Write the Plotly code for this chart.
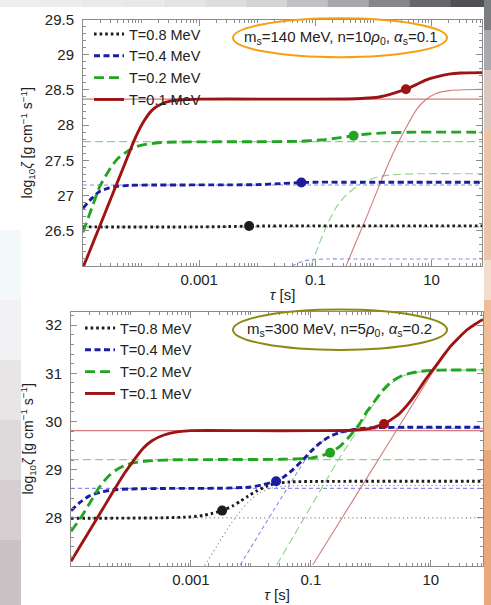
import plotly.graph_objects as go

# ---------------- DATA (log10 tau [s] , log10 zeta) ----------------
series_names = ["T=0.8 MeV", "T=0.4 MeV", "T=0.2 MeV", "T=0.1 MeV"]
x_tick_vals = [1e-3, 1e-1, 1e1]
x_tick_text = ["0.001", "0.1", "10"]
top_y_ticks = [26.5, 27, 27.5, 28, 28.5, 29, 29.5]
bot_y_ticks = [28, 29, 30, 31, 32]
top_label = "m<sub>s</sub>=140 MeV, n=10<i>ρ</i><sub>0</sub>, <i>α</i><sub>s</sub>=0.1"
bot_label = "m<sub>s</sub>=300 MeV, n=5<i>ρ</i><sub>0</sub>, <i>α</i><sub>s</sub>=0.2"
y_title = "log<sub>10</sub><i>ζ</i> [g cm<sup>−1</sup> s<sup>−1</sup>]"
x_title = "<i>τ</i> [s]"

# ---- top panel, thick curves
top_black_lt = [-5.0, -3.0, -2.5, -2.14, -1.8, -1.5, 1.87]
top_black_y = [26.555, 26.555, 26.56, 26.565, 26.568, 26.57, 26.57]
top_blue_lt = [-5.0, -4.85, -4.71, -4.55, -4.42, -4.2, -3.8, -2.5, -2.0, -1.6, -1.24, -1.0, -0.5, 1.87]
top_blue_y = [26.82, 26.96, 27.06, 27.11, 27.13, 27.145, 27.15, 27.152, 27.155, 27.17, 27.185, 27.19, 27.19, 27.19]
top_green_lt = [-5.0, -4.85, -4.71, -4.55, -4.42, -4.25, -4.1, -3.9, -3.7, -3.4, -2.0, -1.3, -0.9, -0.6, -0.34, -0.1, 0.2, 0.6, 1.87]
top_green_y = [26.48, 26.82, 27.13, 27.36, 27.51, 27.62, 27.69, 27.73, 27.75, 27.76, 27.765, 27.77, 27.79, 27.82, 27.85, 27.875, 27.89, 27.9, 27.9]
top_red_lt = [-5.0, -4.9, -4.7, -4.5, -4.3, -4.1, -3.95, -3.8, -3.65, -3.5, -3.3, -3.0, -2.0, -1.0, -0.3, -0.1, 0.1, 0.3, 0.56, 0.75, 0.9, 1.1, 1.3, 1.5, 1.87]
top_red_y = [25.98, 26.18, 26.59, 27.0, 27.41, 27.82, 28.06, 28.22, 28.30, 28.34, 28.36, 28.37, 28.37, 28.37, 28.375, 28.385, 28.40, 28.44, 28.51, 28.58, 28.64, 28.69, 28.725, 28.74, 28.745]
# ---- top panel, thin plateau levels and thin rising curves
top_plateau_lt = [-5.0, 1.87]
top_plateau_y = [26.555, 27.15, 27.765, 28.37]
top_blue_rise_lt = [-1.40, -1.3, -1.2, -1.05, -0.8, -0.4, 1.87]
top_blue_rise_y = [26.0, 26.04, 26.07, 26.09, 26.10, 26.10, 26.10]
top_green_rise_lt = [-1.07, -0.95, -0.8, -0.65, -0.5, -0.35, -0.15, 0.1, 0.4, 0.8, 1.87]
top_green_rise_y = [26.0, 26.28, 26.58, 26.82, 26.98, 27.09, 27.2, 27.27, 27.3, 27.31, 27.31]
top_red_rise_lt = [-0.47, -0.3, -0.1, 0.1, 0.3, 0.45, 0.6, 0.75, 0.9, 1.05, 1.3, 1.87]
top_red_rise_y = [26.0, 26.34, 26.73, 27.14, 27.53, 27.79, 28.02, 28.23, 28.36, 28.44, 28.49, 28.51]
top_mark_lt = [-2.14, -1.24, -0.34, 0.56]
top_mark_y = [26.567, 27.185, 27.85, 28.51]

# ---- bottom panel, thick curves
bot_black_lt = [-5.0, -3.5, -3.0, -2.8, -2.65, -2.48, -2.3, -2.18, -2.05, -1.9, -1.75, -1.6, -1.35, -1.0, 1.87]
bot_black_y = [27.99, 28.0, 28.02, 28.05, 28.09, 28.15, 28.25, 28.34, 28.45, 28.56, 28.65, 28.71, 28.745, 28.755, 28.76]
bot_blue_lt = [-5.0, -4.85, -4.7, -4.52, -4.3, -4.0, -3.5, -2.5, -2.0, -1.8, -1.58, -1.45, -1.3, -1.15, -1.0, -0.85, -0.7, -0.5, -0.3, -0.1, 0.2, 0.6, 1.87]
bot_blue_y = [28.15, 28.32, 28.45, 28.53, 28.58, 28.60, 28.61, 28.615, 28.64, 28.69, 28.76, 28.85, 29.0, 29.18, 29.38, 29.55, 29.68, 29.78, 29.83, 29.86, 29.875, 29.88, 29.88]
bot_green_lt = [-5.0, -4.85, -4.7, -4.52, -4.38, -4.24, -4.1, -3.96, -3.8, -3.6, -3.3, -2.5, -1.5, -1.0, -0.85, -0.68, -0.5, -0.35, -0.2, -0.07, 0.05, 0.2, 0.35, 0.5, 0.65, 0.82, 1.0, 1.3, 1.87]
bot_green_y = [27.72, 27.98, 28.28, 28.65, 28.86, 29.0, 29.09, 29.14, 29.17, 29.19, 29.205, 29.21, 29.215, 29.24, 29.28, 29.35, 29.5, 29.7, 29.93, 30.2, 30.4, 30.65, 30.83, 30.94, 31.0, 31.04, 31.06, 31.07, 31.07]
bot_red_lt = [-5.0, -4.8, -4.57, -4.3, -4.1, -3.95, -3.8, -3.65, -3.45, -3.2, -3.0, -2.0, -1.0, -0.3, -0.1, 0.05, 0.22, 0.35, 0.48, 0.62, 0.76, 0.9, 1.05, 1.2, 1.32, 1.45, 1.6, 1.75, 1.87]
bot_red_y = [27.10, 27.51, 27.98, 28.54, 28.94, 29.2, 29.44, 29.6, 29.72, 29.79, 29.81, 29.81, 29.81, 29.82, 29.84, 29.88, 29.95, 30.05, 30.17, 30.36, 30.59, 30.85, 31.1, 31.35, 31.55, 31.72, 31.9, 32.03, 32.12]
# ---- bottom panel, thin plateau levels and thin rising curves
bot_plateau_lt = [-5.0, 1.87]
bot_plateau_y = [28.0, 28.61, 29.21, 29.81]
bot_black_rise_lt = [-2.77, -2.55, -2.32, -2.15, -2.0, -1.85, -1.65, -1.4, -1.0, 1.87]
bot_black_rise_y = [27.01, 27.45, 27.9, 28.18, 28.38, 28.52, 28.62, 28.66, 28.67, 28.67]
bot_blue_rise_lt = [-2.18, -1.9, -1.6, -1.3, -1.1, -0.9, -0.7, -0.5, -0.3, 0.0, 0.5, 1.87]
bot_blue_rise_y = [27.02, 27.59, 28.2, 28.8, 29.19, 29.5, 29.67, 29.77, 29.82, 29.85, 29.86, 29.86]
bot_green_rise_lt = [-1.57, -1.2, -0.8, -0.5, -0.2, -0.07, 0.1, 0.26, 0.5, 0.8, 1.2, 1.87]
bot_green_rise_y = [27.02, 27.81, 28.66, 29.29, 29.86, 30.14, 30.45, 30.70, 30.93, 31.03, 31.06, 31.07]
bot_red_rise_lt = [-0.97, -0.5, 0.0, 0.5, 1.0, 1.2, 1.32, 1.45, 1.6, 1.75, 1.87]
bot_red_rise_y = [27.02, 27.96, 28.96, 29.96, 30.96, 31.33, 31.54, 31.72, 31.9, 32.03, 32.12]
bot_mark_lt = [-2.48, -1.58, -0.68, 0.22]
bot_mark_y = [28.15, 28.76, 29.35, 29.95]

# ---------------- STYLES ----------------
W, H = 491, 605
thick_col = ["#1c1c1c", "#1c1ca0", "#22a622", "#9e1414"]
thin_col = ["#8a8a8a", "#8c8ce8", "#86d686", "#d07c7c"]
thick_dash = ["2.6px,3px", "6px,3.5px", "10px,5px", "solid"]
thin_dash = ["1.2px,3px", "4px,3px", "8px,4px", "solid"]
FONT = "Liberation Sans, Arial, sans-serif"
TXT = "#222222"


def tau(lt):
    return [10 ** v for v in lt]


fig = go.Figure()


def add_panel(xa, ya, legend, thick, plateau_lt, plateau_y, rises, marks):
    for i, lev in enumerate(plateau_y):
        fig.add_trace(go.Scatter(x=tau(plateau_lt), y=[lev, lev], mode="lines", xaxis=xa, yaxis=ya,
                                 line=dict(color=thin_col[i], width=1.2, dash=thin_dash[i]),
                                 showlegend=False, hoverinfo="skip"))
    for i, (lt, yv) in rises.items():
        fig.add_trace(go.Scatter(x=tau(lt), y=yv, mode="lines", xaxis=xa, yaxis=ya,
                                 line=dict(color=thin_col[i], width=1.1, dash=thin_dash[i], shape="spline",
                                           smoothing=0.6),
                                 showlegend=False, hoverinfo="skip"))
    for i, (lt, yv) in enumerate(thick):
        fig.add_trace(go.Scatter(x=tau(lt), y=yv, mode="lines", xaxis=xa, yaxis=ya, name=series_names[i],
                                 legend=legend,
                                 line=dict(color=thick_col[i], width=2.9, dash=thick_dash[i], shape="spline",
                                           smoothing=0.6)))
    mlt, my = marks
    fig.add_trace(go.Scatter(x=tau(mlt), y=my, mode="markers", xaxis=xa, yaxis=ya,
                             marker=dict(color=thick_col, size=10), showlegend=False))


add_panel("x", "y", "legend",
          [(top_black_lt, top_black_y), (top_blue_lt, top_blue_y), (top_green_lt, top_green_y),
           (top_red_lt, top_red_y)],
          top_plateau_lt, top_plateau_y,
          {1: (top_blue_rise_lt, top_blue_rise_y), 2: (top_green_rise_lt, top_green_rise_y),
           3: (top_red_rise_lt, top_red_rise_y)},
          (top_mark_lt, top_mark_y))
add_panel("x2", "y2", "legend2",
          [(bot_black_lt, bot_black_y), (bot_blue_lt, bot_blue_y), (bot_green_lt, bot_green_y),
           (bot_red_lt, bot_red_y)],
          bot_plateau_lt, bot_plateau_y,
          {0: (bot_black_rise_lt, bot_black_rise_y), 1: (bot_blue_rise_lt, bot_blue_rise_y),
           2: (bot_green_rise_lt, bot_green_rise_y), 3: (bot_red_rise_lt, bot_red_rise_y)},
          (bot_mark_lt, bot_mark_y))

minor_x = [m * 10 ** k for k in range(-5, 2) for m in range(1, 10) if 10 ** k * m not in (1e-3, 1e-1, 1e1)]


def px_x(p):
    return p / W


def px_y(p):
    return 1 - p / H


axis_common = dict(showgrid=False, zeroline=False, showline=True, linecolor="#8c8c8c", linewidth=1,
                   mirror="allticks", ticks="inside", ticklen=6, tickcolor="#8c8c8c", automargin=False,
                   tickfont=dict(family=FONT, size=15, color=TXT))
xa = dict(axis_common, type="log", range=[-5, 1.87], tickvals=x_tick_vals, ticktext=x_tick_text,
          ticklabelstandoff=0,
          title=dict(text=x_title, font=dict(family=FONT, size=15, color=TXT), standoff=2),
          minor=dict(tickvals=minor_x, ticks="inside", ticklen=3, tickcolor="#8c8c8c"))
ya = dict(axis_common, ticklabelstandoff=5,
          title=dict(text=y_title, font=dict(family=FONT, size=14, color=TXT), standoff=8))

fig.update_layout(
    width=W, height=H, margin=dict(l=0, r=0, t=0, b=0, autoexpand=False),
    paper_bgcolor="white", plot_bgcolor="white",
    font=dict(family=FONT, size=14, color=TXT),
    xaxis=dict(xa, domain=[px_x(83), px_x(482)], anchor="y"),
    yaxis=dict(ya, range=[26.0, 29.5], tickvals=top_y_ticks, domain=[px_y(266), px_y(19.5)],
               anchor="x", minor=dict(dtick=0.1, ticks="inside", ticklen=3, tickcolor="#8c8c8c")),
    xaxis2=dict(xa, domain=[px_x(71), px_x(483)], anchor="y2"),
    yaxis2=dict(ya, range=[27.0, 32.28], tickvals=bot_y_ticks, domain=[px_y(566), px_y(311.7)],
                anchor="x2", minor=dict(dtick=0.2, ticks="inside", ticklen=3, tickcolor="#8c8c8c")),
    legend=dict(x=px_x(89), y=px_y(18), xanchor="left", yanchor="top", bgcolor="rgba(0,0,0,0)",
                itemwidth=30, font=dict(family=FONT, size=14.5, color=TXT), tracegroupgap=0),
    legend2=dict(x=px_x(80), y=px_y(312), xanchor="left", yanchor="top", bgcolor="rgba(0,0,0,0)",
                 itemwidth=30, font=dict(family=FONT, size=14.5, color=TXT), tracegroupgap=0),
    showlegend=True,
)

for text, xc, yc in [(top_label, 341, 37), (bot_label, 339, 329.5)]:
    fig.add_annotation(xref="paper", yref="paper", showarrow=False, xanchor="center", yanchor="middle",
                       text=text, x=px_x(xc), y=px_y(yc), font=dict(family=FONT, size=15, color=TXT))

shapes = [
    dict(type="circle", xref="paper", yref="paper", x0=px_x(233), x1=px_x(447), y0=px_y(57.3), y1=px_y(18.3),
         line=dict(color="#f5a010", width=2)),
    dict(type="circle", xref="paper", yref="paper", x0=px_x(233), x1=px_x(447), y0=px_y(350), y1=px_y(309.5),
         line=dict(color="#8a8a12", width=2)),
]
top_strip = ["#eceef0", "#eaecee", "#e8eaec", "#e6e8ea", "#e2e4e6", "#dcdee0", "#d2d4d6", "#c0c1c4",
             "#a6a7aa", "#86878b", "#66676b", "#505155"]
for i, c in enumerate(top_strip):
    shapes.append(dict(type="rect", xref="paper", yref="paper", x0=i / len(top_strip), x1=(i + 1) / len(top_strip),
                       y0=px_y(7), y1=1, line=dict(width=0), fillcolor=c, layer="below"))
right_strip = [(0, 30, "#7c7d82"), (30, 70, "#a9a9ad"), (70, 130, "#d9c8c2"), (130, 260, "#ecc4ac"),
               (260, 300, "#f2dccb"), (300, 450, "#efbc98"), (450, 605, "#eaa77c")]
for y0, y1, c in right_strip:
    shapes.append(dict(type="rect", xref="paper", yref="paper", x0=px_x(484), x1=1, y0=px_y(y1), y1=px_y(y0),
                       line=dict(width=0), fillcolor=c, layer="below"))
left_strip = [(230, 300, "#f3f8fa"), (300, 360, "#f2f2f4"), (360, 420, "#e8e5e7"), (420, 480, "#dedadc"),
              (480, 540, "#d5cfd1"), (540, 605, "#cbc2c5")]
for y0, y1, c in left_strip:
    shapes.append(dict(type="rect", xref="paper", yref="paper", x0=0, x1=px_x(21), y0=px_y(y1), y1=px_y(y0),
                       line=dict(width=0), fillcolor=c, layer="below"))
fig.update_layout(shapes=shapes)

fig.write_html("out.html", config={"displayModeBar": False},
               post_script="document.body.style.margin='0';document.body.style.overflow='hidden';")
